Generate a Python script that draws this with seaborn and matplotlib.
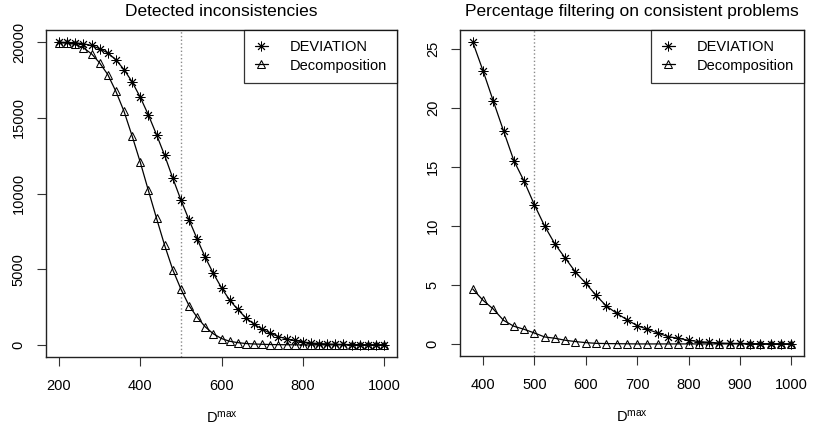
import matplotlib
matplotlib.use('AGG')
import matplotlib.pyplot as plt
import seaborn as sns
import numpy as np

##################################################################################
# data
##################################################################################
DMAX_LEFT = [200, 220, 240, 260, 280, 300, 320, 340, 360, 380, 400, 420, 440, 460,
             480, 500, 520, 540, 560, 580, 600, 620, 640, 660, 680, 700, 720, 740,
             760, 780, 800, 820, 840, 860, 880, 900, 920, 940, 960, 980, 1000]

DEV_COUNT = [20000, 19980, 19960, 19890, 19780, 19560, 19290, 18830, 18190, 17370,
             16360, 15190, 13890, 12520, 11020, 9580, 8260, 7000, 5780, 4720,
             3770, 2960, 2340, 1790, 1370, 1040, 770, 550, 400, 290,
             200, 130, 90, 65, 45, 30, 20, 15, 10, 5, 5]

DEC_COUNT = [19950, 19930, 19850, 19620, 19230, 18630, 17860, 16750, 15430, 13800,
             12070, 10200, 8370, 6580, 4970, 3690, 2600, 1830, 1190, 730,
             420, 240, 150, 90, 60, 40, 25, 15, 10, 5,
             0, 0, 0, 0, 0, 0, 0, 0, 0, 0, 0]

DMAX_RIGHT = [380, 400, 420, 440, 460, 480, 500, 520, 540, 560, 580, 600, 620, 640,
              660, 680, 700, 720, 740, 760, 780, 800, 820, 840, 860, 880, 900, 920,
              940, 960, 980, 1000]

DEV_PCT = [25.6, 23.17, 20.6, 18.06, 15.55, 13.8, 11.8, 9.99, 8.47, 7.28, 6.1, 5.14,
           4.12, 3.22, 2.6, 2.06, 1.55, 1.24, 0.93, 0.62, 0.48, 0.31, 0.2, 0.14,
           0.08, 0.05, 0.04, 0.03, 0.02, 0.01, 0.01, 0.0]

DEC_PCT = [4.66, 3.7, 2.96, 2.0, 1.5, 1.24, 0.93, 0.59, 0.48, 0.31, 0.2, 0.11,
           0.05, 0.03, 0.02, 0.01, 0, 0, 0, 0, 0, 0, 0, 0,
           0, 0, 0, 0, 0, 0, 0, 0]

LABELS = ['DEVIATION', 'Decomposition']
TITLES = ['Detected inconsistencies', 'Percentage filtering on consistent problems']
XTICKS = [[200, 400, 600, 800, 1000], [400, 500, 600, 700, 800, 900, 1000]]
YTICKS = [[0, 5000, 10000, 15000, 20000], [0, 5, 10, 15, 20, 25]]
VLINE = 500

##################################################################################
# style
##################################################################################
sns.set_style('white')
plt.rcParams['font.family'] = ['Liberation Sans', 'DejaVu Sans']
plt.rcParams['mathtext.fontset'] = 'custom'
plt.rcParams['mathtext.rm'] = 'Liberation Sans'
plt.rcParams['text.color'] = 'black'
plt.rcParams['axes.labelcolor'] = 'black'
plt.rcParams['xtick.color'] = 'black'
plt.rcParams['ytick.color'] = 'black'

W, H = 817, 433
fig = plt.figure(figsize=(W / 100, H / 100), dpi=100)

# axes boxes in pixels: left, top, right, bottom
boxes = [(46, 30, 397, 357), (460, 30, 804, 356)]
axs = []
for l, t, r, b in boxes:
    axs.append(fig.add_axes([l / W, 1 - b / H, (r - l) / W, (b - t) / H]))

panels = [(DMAX_LEFT, DEV_COUNT, DEC_COUNT), (DMAX_RIGHT, DEV_PCT, DEC_PCT)]

for i, ax in enumerate(axs):
    xs, dev, dec = panels[i]
    ax.axvline(VLINE, color='#8a8a8a', linestyle=':', lw=1.0, zorder=1)
    sns.lineplot(x=xs, y=dev, ax=ax, color='black', lw=0.9, marker=(8, 2, 0),
                 markersize=7, markeredgewidth=0.65, markeredgecolor='black',
                 label=LABELS[0], zorder=3)
    sns.lineplot(x=xs, y=dec, ax=ax, color='black', lw=0.9, marker='^',
                 markersize=6, markeredgewidth=0.75, markerfacecolor='none',
                 markeredgecolor='black', label=LABELS[1], zorder=3)

    # R style 4% axis expansion
    xr = max(xs) - min(xs)
    ax.set_xlim(min(xs) - 0.04 * xr, max(xs) + 0.04 * xr)
    ymax = max(max(dev), max(dec))
    ax.set_ylim(-0.04 * ymax, ymax * 1.04)

    ax.set_xticks(XTICKS[i])
    ax.set_yticks(YTICKS[i])
    ax.set_yticklabels([str(v) for v in YTICKS[i]], rotation=90, va='center')
    ax.tick_params(axis='x', direction='out', length=6.5, width=0.8, pad=9,
                   labelsize=10.5, color='#333333', bottom=True)
    ax.tick_params(axis='y', direction='out', length=6.5, width=0.8, pad=8,
                   labelsize=10.5, color='#333333', left=True)
    for s in ax.spines.values():
        s.set_visible(True)
        s.set_color('#222222')
        s.set_linewidth(1.0)

    ax.set_title(TITLES[i], fontsize=12.5, pad=10)
    ax.set_xlabel(r'$\mathregular{D^{max}}$', fontsize=10.5, labelpad=12)
    ax.set_ylabel('')

    leg = ax.legend(loc='upper right', fontsize=10.5, frameon=True, fancybox=False,
                    edgecolor='black', borderaxespad=0, handlelength=0.9,
                    handletextpad=1.5, borderpad=0.7, labelspacing=0.3)
    leg.get_frame().set_linewidth(0.9)

plt.savefig('out.png', dpi=100)
